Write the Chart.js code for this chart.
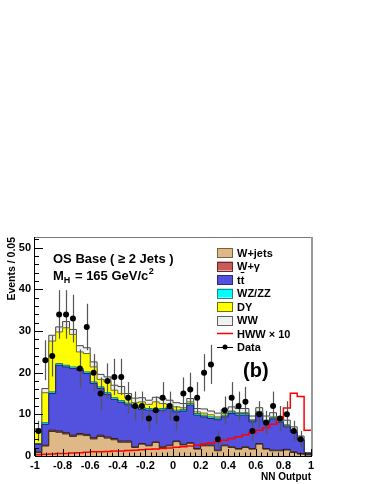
<!DOCTYPE html>
<html>
<head>
<meta charset="utf-8">
<script src="https://cdn.jsdelivr.net/npm/chart.js@4.4.0/dist/chart.umd.min.js"></script>
<style>
    html, body { margin: 0; padding: 0; background: #fff; }
    #wrap { width: 374px; height: 484px; }
</style>
</head>
<body>
<div id="wrap"><canvas id="nn-chart" width="374" height="484"></canvas></div>
<script>
(function() {
    'use strict';

    // Binning of the NN output histogram
    const xMin = -1;
    const binWidth = 0.05;

    const xTickValues = [-1, -0.8, -0.6, -0.4, -0.2, 0, 0.2, 0.4, 0.6, 0.8, 1];
    const xTickLabels = ['-1', '-0.8', '-0.6', '-0.4', '-0.2', '0', '0.2', '0.4', '0.6', '0.8', '1'];
    const yTickValues = [0, 10, 20, 30, 40, 50];
    const yTickLabels = ['0', '10', '20', '30', '40', '50'];

    // Background components, events per bin (40 bins)
    const wjets = [0.8, 2.4, 5.9, 5.7, 5.3, 4.7, 5.1, 4.9, 4.1, 4.7,
                   4.3, 3.9, 3.3, 3.3, 2.05, 2.85, 2.45, 3.25, 2.05, 2.45,
                   3.45, 2.65, 3.05, 1.65, 2.45, 2.45, 1.25, 2.45, 2.05, 1.65,
                   2.05, 1.65, 2.85, 1.65, 1.25, 1.25, 1.45, 0.85, 0.45, 0.25];
    const wgamma = [0.2, 0.2, 0.3, 0.3, 0.3, 0.3, 0.3, 0.3, 0.3, 0.3,
                    0.3, 0.3, 0.3, 0.3, 0.15, 0.15, 0.15, 0.15, 0.15, 0.15,
                    0.15, 0.15, 0.15, 0.15, 0.15, 0.15, 0.15, 0.15, 0.15, 0.15,
                    0.15, 0.15, 0.15, 0.15, 0.15, 0.15, 0.15, 0.15, 0.15, 0.05];
    const ttbar = [1.8, 5.0, 8.8, 15.8, 15.8, 16.0, 15.2, 14.6, 13.0, 11.2,
                   10.2, 9.4, 9.3, 8.7, 9.5, 8.2, 8.4, 7.4, 8.8, 8.8,
                   7.0, 8.0, 9.0, 8.0, 6.8, 6.4, 7.3, 6.8, 8.0, 8.0,
                   7.6, 6.4, 7.2, 6.3, 7.5, 6.7, 5.4, 4.7, 3.2, 0.3];
    const wzzz = [0.2, 0.4, 0.4, 0.4, 0.4, 0.4, 0.4, 0.4, 0.4, 0.4,
                  0.4, 0.4, 0.4, 0.4, 0.4, 0.4, 0.4, 0.4, 0.4, 0.4,
                  0.4, 0.4, 0.4, 0.4, 0.4, 0.4, 0.4, 0.4, 0.4, 0.4,
                  0.4, 0.3, 0.3, 0.3, 0.3, 0.3, 0.3, 0.3, 0.2, 0.05];
    const dy = [3.2, 7.2, 12.2, 7.6, 9.0, 7.8, 4.0, 4.4, 3.6, 1.8,
                2.6, 1.8, 1.7, 1.2, 0.7, 1.4, 1.0, 1.8, 1.2, 0.6,
                0.8, 0.4, 0.4, 0.4, 0.5, 0.5, 0.3, 0.4, 0.2, 0.2,
                0.2, 0.2, 0.2, 0.2, 0.2, 0.1, 0.2, 0.1, 0.1, 0.05];
    const ww = [0.3, 1.0, 1.4, 1.2, 1.5, 1.2, 1.5, 1.4, 1.2, 1.2,
                1.2, 1.2, 1.7, 1.1, 1.1, 1.0, 1.0, 1.1, 1.2, 1.0,
                1.0, 1.0, 0.8, 0.8, 1.0, 0.9, 0.9, 1.0, 1.0, 1.0,
                1.0, 0.9, 0.9, 1.0, 1.0, 0.9, 1.1, 0.9, 0.7, 0.1];

    // Signal HWW (x10)
    const hww10 = [0.3, 0.4, 0.5, 0.6, 0.6, 0.7, 0.8, 0.9, 1.0, 1.0,
                   1.1, 1.2, 1.2, 1.3, 1.4, 1.5, 1.6, 1.7, 1.8, 1.9,
                   2.1, 2.2, 2.4, 2.6, 2.9, 3.1, 3.4, 3.8, 4.2, 4.6,
                   5.1, 5.6, 6.2, 6.8, 7.6, 8.8, 11.5, 15.1, 14.3, 6.2];

    // Observed data
    const dataCounts = [6, 23, 24, 34, 34, 33, 21, 31, 20, 15,
                        18, 19, 19, 14, 12, 12, 9, 11, 14, 12,
                        9, 15, 16, 14, 20, 22, 4, 11, 14, 12,
                        13, 6, 10, 8, 12, 9, 10, 6, 4, null];

    const FONT = '"Liberation Sans", Arial, Helvetica, sans-serif';

    function stepPoints(values) {
        const pts = [];
        for (let i = 0; i <= values.length; i++) {
            pts.push({ x: xMin + i * binWidth, y: values[Math.min(i, values.length - 1)] });
        }
        return pts;
    }

    function centerPoints(values) {
        return values.map((v, i) => ({ x: xMin + (i + 0.5) * binWidth, y: v }));
    }

    // order also sets the stacking order: lowest order sits at the bottom
    function stackSet(label, values, fillColor, lineColor, order, fill) {
        return {
            label: label,
            data: stepPoints(values),
            stack: 'bkg',
            stepped: true,
            fill: fill,
            backgroundColor: fillColor,
            borderColor: lineColor,
            borderWidth: 1,
            pointRadius: 0,
            order: order
        };
    }

    const legendItems = [
        { text: 'W+jets', type: 'box', fill: '#DEB887', line: '#7a6040' },
        { text: 'W+\u03B3', type: 'box', fill: '#C85A5A', line: '#6a2a2a' },
        { text: 'tt', type: 'box', fill: '#5252DE', line: '#2a2a80', bar: true },
        { text: 'WZ/ZZ', type: 'box', fill: '#00FFFF', line: '#308080' },
        { text: 'DY', type: 'box', fill: '#FFFF00', line: '#707000' },
        { text: 'WW', type: 'box', fill: '#F0F0F0', line: '#606060' },
        { text: 'HWW \u00D7 10', type: 'line', line: '#FF0000' },
        { text: 'Data', type: 'marker', line: '#000' }
    ];

    const rootStyle = {
        id: 'rootStyle',
        beforeDatasetDraw(chart, args) {
            if (args.meta.label !== 'Data') return;
            const ctx = chart.ctx;
            const y = chart.scales.y;
            const area = chart.chartArea;
            ctx.save();
            ctx.beginPath();
            ctx.rect(area.left, area.top, area.right - area.left, area.bottom - area.top);
            ctx.clip();
            ctx.strokeStyle = '#555';
            ctx.lineWidth = 1.2;
            args.meta.data.forEach((pt, i) => {
                const v = dataCounts[i];
                if (v === null || v === undefined) return;
                const err = Math.sqrt(v);
                ctx.beginPath();
                ctx.moveTo(Math.round(pt.x) + 0.5, y.getPixelForValue(v + err));
                ctx.lineTo(Math.round(pt.x) + 0.5, y.getPixelForValue(Math.max(0, v - err)));
                ctx.stroke();
            });
            ctx.restore();
        },
        afterDraw(chart) {
            const ctx = chart.ctx;
            const a = chart.chartArea;
            const xs = chart.scales.x;
            const ys = chart.scales.y;
            ctx.save();

            // frame
            ctx.strokeStyle = '#777';
            ctx.lineWidth = 1;
            ctx.beginPath();
            ctx.moveTo(a.left, a.top + 0.5);
            ctx.lineTo(a.right, a.top + 0.5);
            ctx.stroke();
            ctx.strokeStyle = '#999';
            ctx.lineWidth = 2;
            ctx.beginPath();
            ctx.moveTo(a.right + 1, a.top);
            ctx.lineTo(a.right + 1, a.bottom);
            ctx.stroke();

            ctx.strokeStyle = '#000';
            ctx.lineWidth = 1;
            ctx.beginPath();
            ctx.moveTo(a.left - 0.5, a.top);
            ctx.lineTo(a.left - 0.5, a.bottom);
            ctx.moveTo(a.left, a.bottom + 0.5);
            ctx.lineTo(a.right + 1, a.bottom + 0.5);
            ctx.stroke();

            // y ticks (inward)
            ctx.beginPath();
            for (let v = 0; v <= 52; v += 2) {
                const py = Math.round(ys.getPixelForValue(v)) + 0.5;
                const len = v % 10 === 0 ? 8 : 4;
                ctx.moveTo(a.left, py);
                ctx.lineTo(a.left + len, py);
            }
            // x ticks (inward)
            for (let k = 0; k <= 50; k++) {
                const v = xMin + k * 0.04;
                const px = Math.round(xs.getPixelForValue(v)) + 0.5;
                const len = k % 5 === 0 ? 7 : 3.5;
                ctx.moveTo(px, a.bottom);
                ctx.lineTo(px, a.bottom - len);
            }
            ctx.stroke();

            // axis titles
            ctx.fillStyle = '#000';
            ctx.font = 'bold 10.5px ' + FONT;
            ctx.textBaseline = 'alphabetic';
            ctx.save();
            ctx.translate(15, a.top);
            ctx.rotate(-Math.PI / 2);
            ctx.textAlign = 'right';
            ctx.fillText('Events / 0.05', 0, 0);
            ctx.restore();

            ctx.font = 'bold 10px ' + FONT;
            ctx.textAlign = 'right';
            ctx.fillText('NN Output', a.right, 480);

            // annotations
            ctx.textAlign = 'left';
            ctx.font = 'bold 13px ' + FONT;
            ctx.fillText('OS Base ( \u2265 2 Jets )', 53, 263);
            let x = 53;
            ctx.fillText('M', x, 280);
            x += ctx.measureText('M').width;
            ctx.font = 'bold 9px ' + FONT;
            ctx.fillText('H', x, 283);
            x += ctx.measureText('H').width + 1;
            ctx.font = 'bold 13px ' + FONT;
            const mainTxt = ' = 165 GeV/c';
            ctx.fillText(mainTxt, x, 280);
            x += ctx.measureText(mainTxt).width;
            ctx.font = 'bold 9px ' + FONT;
            ctx.fillText('2', x + 0.5, 274);

            ctx.font = 'bold 20px ' + FONT;
            ctx.fillText('(b)', 243, 377);

            // legend
            ctx.font = 'bold 11px ' + FONT;
            legendItems.forEach((item, k) => {
                const cy = 252.5 + 13.5 * k;
                const bx = 217, bw = 16;
                if (item.type === 'box') {
                    ctx.fillStyle = item.fill;
                    ctx.fillRect(bx, cy - 4.5, bw, 9);
                    ctx.strokeStyle = item.line;
                    ctx.lineWidth = 1;
                    ctx.strokeRect(bx + 0.5, Math.round(cy - 4.5) + 0.5, bw - 1, 9);
                } else if (item.type === 'line') {
                    ctx.strokeStyle = item.line;
                    ctx.lineWidth = 1.5;
                    ctx.beginPath();
                    ctx.moveTo(bx, cy);
                    ctx.lineTo(bx + bw, cy);
                    ctx.stroke();
                } else {
                    ctx.strokeStyle = item.line;
                    ctx.lineWidth = 1;
                    ctx.beginPath();
                    ctx.moveTo(bx, Math.round(cy) + 0.5);
                    ctx.lineTo(bx + bw, Math.round(cy) + 0.5);
                    ctx.stroke();
                    ctx.fillStyle = '#000';
                    ctx.beginPath();
                    ctx.arc(bx + bw / 2, cy, 2.5, 0, Math.PI * 2);
                    ctx.fill();
                }
                ctx.fillStyle = '#000';
                ctx.fillText(item.text, 237, cy + 4);
                if (item.bar) {
                    const w1 = ctx.measureText('t').width;
                    ctx.fillRect(237 + w1, cy - 7.5, w1, 1);
                }
            });

            ctx.restore();
        }
    };

    const ctx = document.getElementById('nn-chart');

    new Chart(ctx.getContext('2d'), {
        type: 'line',
        data: {
            datasets: [
                stackSet('W+jets', wjets, '#DEB887', '#3a2a1a', 2, 'origin'),
                stackSet('W+gamma', wgamma, '#C85A5A', '#3a1a1a', 3, '-1'),
                stackSet('ttbar', ttbar, '#5252DE', '#20206a', 4, '-1'),
                stackSet('WZ/ZZ', wzzz, '#00FFFF', '#207070', 5, '-1'),
                stackSet('DY', dy, '#FFFF00', '#6a6a30', 6, '-1'),
                stackSet('WW', ww, '#F0F0F0', '#444444', 7, '-1'),
                {
                    label: 'HWW x10',
                    data: stepPoints(hww10),
                    stack: 'sig',
                    stepped: true,
                    fill: false,
                    borderColor: '#FF0000',
                    borderWidth: 1.5,
                    pointRadius: 0,
                    order: 1
                },
                {
                    label: 'Data',
                    data: centerPoints(dataCounts),
                    stack: 'obs',
                    showLine: false,
                    fill: false,
                    pointRadius: 3,
                    pointBackgroundColor: '#000',
                    pointBorderColor: '#000',
                    pointBorderWidth: 0,
                    order: 0
                }
            ]
        },
        options: {
            responsive: false,
            devicePixelRatio: 1,
            animation: false,
            layout: { padding: { left: 0, right: 63, top: 237, bottom: 0 } },
            plugins: {
                legend: { display: false },
                tooltip: { enabled: false }
            },
            scales: {
                x: {
                    type: 'linear',
                    min: -1,
                    max: 1,
                    grid: { display: false, drawTicks: false },
                    border: { display: false },
                    afterBuildTicks: s => { s.ticks = xTickValues.map(v => ({ value: v })); },
                    afterFit: s => { s.height = 28; },
                    ticks: {
                        autoSkip: false,
                        maxRotation: 0,
                        padding: 3,
                        color: '#000',
                        font: { family: FONT, size: 11, weight: 'bold' },
                        callback: (v, i) => xTickLabels[i]
                    }
                },
                y: {
                    type: 'linear',
                    stacked: true,
                    min: 0,
                    max: 52.6,
                    grid: { display: false, drawTicks: false },
                    border: { display: false },
                    afterBuildTicks: s => { s.ticks = yTickValues.map(v => ({ value: v })); },
                    afterFit: s => { s.width = 35; },
                    ticks: {
                        padding: 4,
                        color: '#000',
                        font: { family: FONT, size: 11, weight: 'bold' },
                        callback: (v, i) => yTickLabels[i]
                    }
                }
            }
        },
        plugins: [rootStyle]
    });
})();
</script>
</body>
</html>
